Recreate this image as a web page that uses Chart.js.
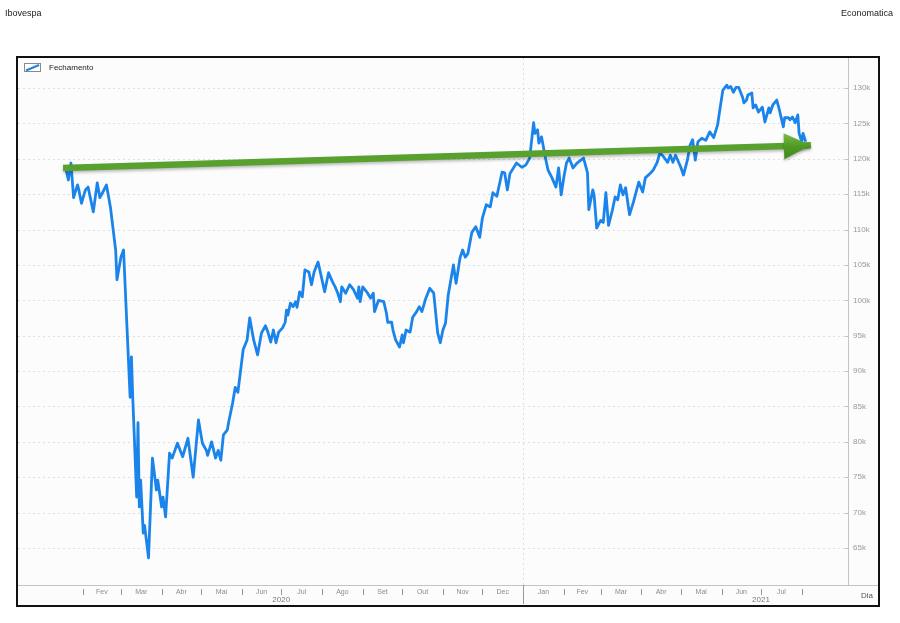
<!DOCTYPE html>
<html>
<head>
<meta charset="utf-8">
<script src="https://cdn.jsdelivr.net/npm/chart.js@4.4.0/dist/chart.umd.min.js"></script>
<style>
  html, body { margin: 0; padding: 0; background: #fff; }
  #wrap { position: relative; width: 900px; height: 623px; }
</style>
</head>
<body>
<div id="wrap"><canvas id="ibov" width="900" height="623"></canvas></div>
<script>
/* ======= Data ====== */
// day number counted from 1 Jan 2020, close in thousands of points
const days = [
  18, 20, 22, 24, 27, 28, 30, 33, 35, 39,
  42, 44, 46, 49, 52, 56, 57, 60, 62, 67,
  68, 69, 72, 73, 74, 75, 77, 78, 81, 84,
  87, 88, 91, 92, 94, 97, 99, 103, 107, 111,
  115, 119, 122, 125, 126, 129, 132, 134, 136, 138,
  141, 142, 145, 147, 149, 153, 156, 158, 161, 164,
  167, 170, 172, 174, 176, 178, 180, 183, 185, 186,
  187, 189, 191, 193, 194, 196, 198, 200, 203, 205,
  207, 210, 213, 215, 218, 221, 223, 225, 227, 228,
  231, 234, 237, 240, 241, 242, 244, 247, 250, 252,
  253, 256, 260, 262, 263, 266, 267, 269, 272, 274,
  275, 277, 280, 282, 285, 287, 289, 292, 295, 298,
  301, 303, 305, 307, 309, 313, 315, 318, 320, 322,
  324, 327, 330, 333, 335, 338, 341, 343, 346, 350,
  352, 354, 356, 361, 365, 368, 371, 374, 375, 377,
  378, 380, 383, 385, 388, 391, 393, 395, 397, 399,
  401, 404, 407, 412, 415, 416, 419, 420, 422, 425,
  427, 429, 431, 434, 436, 438, 440, 442, 444, 447,
  450, 454, 457, 459, 463, 465, 468, 470, 472, 476,
  478, 480, 482, 486, 488, 491, 493, 495, 497, 499,
  502, 505, 508, 511, 514, 516, 518, 521, 522, 524,
  526, 528, 530, 533, 534, 536, 537, 540, 541, 543,
  545, 548, 550, 553, 554, 556, 559, 561, 564, 565,
  568, 569, 571, 573, 575, 576, 578, 579, 581
];
const closes = [
  118.7, 117.0, 119.4, 114.5, 116.3, 115.6, 113.7, 115.6, 116.0, 112.5,
  116.6, 114.5, 115.2, 116.3, 113.2, 107.1, 102.9, 106.1, 107.1, 86.3,
  92.0, 86.3, 72.2, 82.7, 70.8, 74.6, 67.1, 68.2, 63.6, 77.7,
  73.2, 74.6, 70.8, 72.2, 69.4, 78.4, 77.7, 79.8, 77.9, 80.5,
  75.0, 83.1, 79.8, 78.8, 78.1, 80.0, 77.7, 78.8, 77.4, 81.0,
  81.7, 82.8, 85.5, 87.7, 87.0, 93.0, 94.4, 97.5, 94.4, 92.3,
  95.4, 96.4, 95.4, 94.1, 95.8, 94.0, 95.5, 96.1, 96.9, 98.6,
  97.9, 99.6, 99.1, 99.8, 99.0, 101.2, 100.5, 104.3, 104.0, 102.2,
  104.0, 105.4, 102.9, 101.2, 103.9, 102.6, 101.9, 101.0, 99.8, 101.9,
  101.0, 102.2, 101.5, 100.3, 101.9, 99.8, 101.9, 101.2, 100.3, 101.0,
  98.4, 100.0, 99.8, 98.2, 96.9, 96.9, 95.8, 94.4, 93.4, 95.1,
  94.0, 95.8, 95.5, 97.6, 98.4, 99.1, 98.4, 100.3, 101.7, 101.0,
  95.4, 94.0, 95.8, 96.8, 100.7, 105.0, 102.4, 106.0, 107.1, 106.1,
  106.6, 109.6, 110.4, 108.9, 111.6, 113.5, 113.2, 115.2, 114.7, 118.1,
  118.0, 115.6, 117.9, 119.4, 118.8, 119.1, 120.1, 125.1, 123.6, 124.1,
  122.2, 123.1, 120.1, 118.4, 117.3, 116.0, 118.7, 114.9, 117.4, 119.4,
  120.1, 118.7, 119.4, 120.1, 118.0, 112.8, 115.6, 114.9, 110.2, 111.3,
  111.0, 115.2, 110.6, 112.8, 114.6, 114.2, 116.3, 114.9, 115.9, 112.1,
  113.9, 116.7, 115.3, 117.3, 118.0, 118.4, 119.5, 120.8, 120.5, 119.5,
  120.5, 119.5, 120.5, 118.8, 117.7, 119.8, 121.9, 122.7, 119.8, 122.4,
  122.9, 122.6, 123.8, 123.0, 124.8, 127.3, 129.7, 130.4, 130.0, 130.2,
  129.4, 130.1, 130.1, 128.7, 127.9, 128.3, 129.0, 129.3, 127.2, 127.6,
  126.6, 127.3, 125.2, 127.2, 126.5, 127.6, 128.3, 126.9, 124.5, 125.8,
  125.8, 125.5, 125.9, 125.1, 126.2, 123.6, 122.4, 123.6, 122.4
];

// green trend arrow drawn over the chart
const arrowDays = [16, 585];
const arrowValues = [118.7, 121.9];

const yTicks = [65, 70, 75, 80, 85, 90, 95, 100, 105, 110, 115, 120, 125, 130];

const monthLabels = ['Fev', 'Mar', 'Abr', 'Mai', 'Jun', 'Jul', 'Ago', 'Set', 'Out', 'Nov', 'Dec',
                     'Jan', 'Fev', 'Mar', 'Abr', 'Mai', 'Jun', 'Jul'];
// month boundaries (day numbers), label i sits between boundary i and i+1
const monthStarts = [31, 60, 91, 121, 152, 182, 213, 244, 274, 305, 335,
                     366, 397, 425, 456, 486, 517, 547, 578];
const yearLabels = ['2020', '2021'];
const yearMids = [182, 547];
const yearBreak = 366;

/* ======= Helpers ====== */
const FONT = '"Liberation Sans", Arial, sans-serif';

// titles, grid, custom x axis, legend and frame
const decor = {
  id: 'decor',
  beforeDraw(chart) {
    const { ctx, chartArea: a, scales: { x, y } } = chart;
    ctx.save();
    ctx.fillStyle = '#ffffff';
    ctx.fillRect(0, 0, chart.width, chart.height);
    ctx.fillStyle = '#fcfcfc';
    ctx.fillRect(18, 58, 860, 547);

    // dotted horizontal grid
    ctx.strokeStyle = '#dedede';
    ctx.lineWidth = 1;
    ctx.setLineDash([2, 3]);
    yTicks.forEach(function (v) {
      const py = Math.round(y.getPixelForValue(v)) + 0.5;
      ctx.beginPath();
      ctx.moveTo(a.left, py);
      ctx.lineTo(a.right, py);
      ctx.stroke();
    });
    // dotted vertical line at the year change
    const bx = Math.round(x.getPixelForValue(yearBreak)) + 0.5;
    ctx.beginPath();
    ctx.moveTo(bx, a.top);
    ctx.lineTo(bx, a.bottom);
    ctx.stroke();
    ctx.setLineDash([]);

    // axis lines
    ctx.strokeStyle = '#c4c4c4';
    ctx.beginPath();
    ctx.moveTo(a.right + 0.5, a.top);
    ctx.lineTo(a.right + 0.5, a.bottom);
    ctx.moveTo(18, a.bottom + 0.5);
    ctx.lineTo(878, a.bottom + 0.5);
    ctx.stroke();
    // small tick dashes on the value axis
    yTicks.forEach(function (v) {
      const py = Math.round(y.getPixelForValue(v)) + 0.5;
      ctx.beginPath();
      ctx.moveTo(a.right - 3, py);
      ctx.lineTo(a.right, py);
      ctx.stroke();
    });

    // month marks and labels
    ctx.strokeStyle = '#9a9a9a';
    monthStarts.forEach(function (d) {
      if (d === yearBreak) return;
      const px = Math.round(x.getPixelForValue(d)) + 0.5;
      ctx.beginPath();
      ctx.moveTo(px, 589);
      ctx.lineTo(px, 595);
      ctx.stroke();
    });
    ctx.beginPath();
    ctx.moveTo(bx, a.bottom);
    ctx.lineTo(bx, 604);
    ctx.stroke();

    ctx.fillStyle = '#8c8c8c';
    ctx.font = '7px ' + FONT;
    ctx.textAlign = 'center';
    ctx.textBaseline = 'middle';
    monthLabels.forEach(function (lab, i) {
      const mid = (monthStarts[i] + monthStarts[i + 1]) / 2;
      ctx.fillText(lab, x.getPixelForValue(mid), 592);
    });
    ctx.fillStyle = '#7a7a7a';
    ctx.font = '8px ' + FONT;
    yearLabels.forEach(function (lab, i) {
      ctx.fillText(lab, x.getPixelForValue(yearMids[i]), 600);
    });
    ctx.fillStyle = '#555';
    ctx.fillText('Dia', 867, 596);

    // titles
    ctx.fillStyle = '#222';
    ctx.font = '9px ' + FONT;
    ctx.textAlign = 'left';
    ctx.fillText('Ibovespa', 5, 14);
    ctx.textAlign = 'right';
    ctx.fillText('Economatica', 893, 14);
    ctx.restore();
  },
  afterDraw(chart) {
    const { ctx } = chart;
    ctx.save();
    // legend
    ctx.fillStyle = '#fff';
    ctx.fillRect(24.5, 63.5, 16, 8);
    ctx.strokeStyle = '#8a8a8a';
    ctx.lineWidth = 1;
    ctx.strokeRect(24.5, 63.5, 16, 8);
    ctx.strokeStyle = '#1a84ea';
    ctx.lineWidth = 2;
    ctx.beginPath();
    ctx.moveTo(26, 70.5);
    ctx.lineTo(39, 65);
    ctx.stroke();
    ctx.fillStyle = '#222';
    ctx.font = '8px ' + FONT;
    ctx.textAlign = 'left';
    ctx.textBaseline = 'middle';
    ctx.fillText('Fechamento', 49, 67.5);

    // outer frame
    ctx.strokeStyle = '#111';
    ctx.lineWidth = 2;
    ctx.strokeRect(17, 57, 862, 549);
    ctx.restore();
  },
  beforeDatasetDraw(chart, args) {
    if (args.index === 0) {
      chart.ctx.save();
      chart.ctx.shadowColor = 'rgba(0,0,0,0.25)';
      chart.ctx.shadowBlur = 3;
      chart.ctx.shadowOffsetY = 2;
    }
  },
  afterDatasetDraw(chart, args) {
    if (args.index !== 0) return;
    const ctx = chart.ctx;
    const pts = chart.getDatasetMeta(0).data;
    const p0 = pts[0], p1 = pts[pts.length - 1];
    const ang = Math.atan2(p1.y - p0.y, p1.x - p0.x);
    const len = 27, half = 13;
    const bxp = p1.x - len * Math.cos(ang), byp = p1.y - len * Math.sin(ang);
    const grad = ctx.createLinearGradient(bxp, byp - half, bxp, byp + half);
    grad.addColorStop(0, '#7cbc4a');
    grad.addColorStop(0.5, '#4f9a25');
    grad.addColorStop(1, '#3f8a1c');
    ctx.fillStyle = grad;
    ctx.beginPath();
    ctx.moveTo(p1.x, p1.y);
    ctx.lineTo(bxp + half * Math.sin(ang), byp - half * Math.cos(ang));
    ctx.lineTo(bxp - half * Math.sin(ang), byp + half * Math.cos(ang));
    ctx.closePath();
    ctx.fill();
    ctx.restore();
  }
};

/* ======= Chart ====== */
const ctx = document.getElementById('ibov');
new Chart(ctx, {
  type: 'line',
  data: {
    datasets: [{
      label: 'Tendência',
      data: arrowDays.map(function (d, i) { return { x: d, y: arrowValues[i] }; }),
      borderColor: '#58a12e',
      borderWidth: 6.5,
      borderCapStyle: 'butt',
      pointRadius: 0,
      tension: 0,
    }, {
      label: 'Fechamento',
      data: days.map(function (d, i) { return { x: d, y: closes[i] }; }),
      borderColor: '#1a84ea',
      borderWidth: 2.8,
      borderJoinStyle: 'round',
      pointRadius: 0,
      tension: 0,
    }],
  },
  options: {
    responsive: false,
    animation: false,
    events: [],
    layout: {
      padding: { left: 18, top: 58, right: 0, bottom: 0 },
    },
    plugins: {
      legend: { display: false },
      tooltip: { enabled: false },
    },
    scales: {
      x: {
        type: 'linear',
        min: -18.3,
        max: 613.2,
        grid: { display: false },
        border: { display: false },
        ticks: { display: false },
        afterFit(scale) { scale.height = 38; },
      },
      y: {
        position: 'right',
        min: 59.77,
        max: 134.24,
        grid: { display: false, drawTicks: false },
        border: { display: false },
        afterBuildTicks(scale) {
          scale.ticks = yTicks.map(function (v) { return { value: v }; });
        },
        afterFit(scale) { scale.width = 52; },
        ticks: {
          color: '#9a9a9a',
          padding: 5,
          font: { family: FONT, size: 8 },
          callback(value) {
            return value + 'k';
          },
        },
      },
    },
  },
  plugins: [decor],
});
</script>
</body>
</html>
